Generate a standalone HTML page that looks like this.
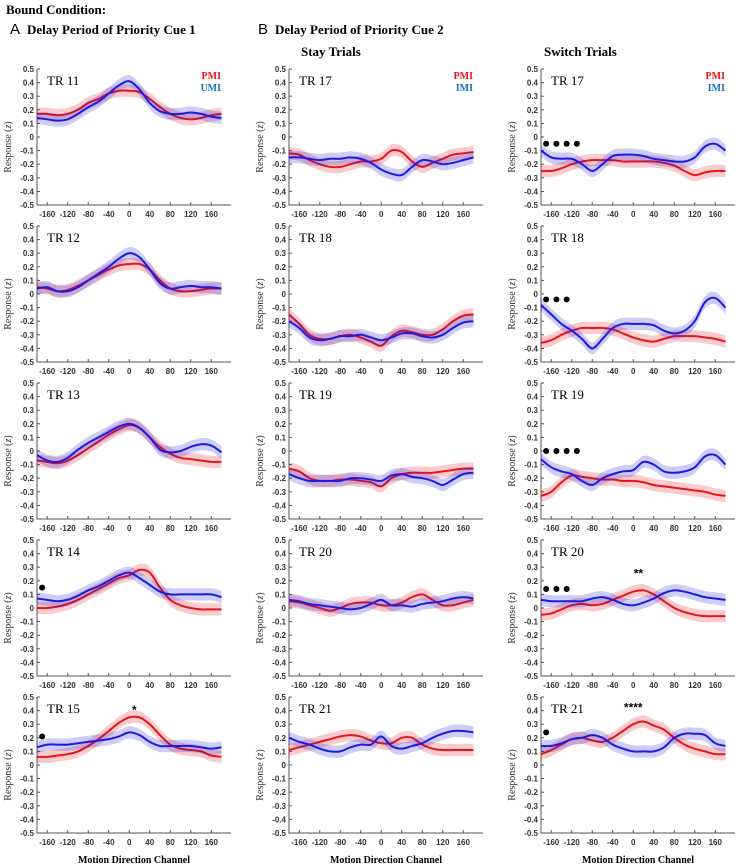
<!DOCTYPE html>
<html><head><meta charset="utf-8">
<style>
body{margin:0;background:#fff;}
svg{display:block;font-family:"Liberation Serif",serif;}
.tk{font-family:"Liberation Sans",sans-serif;font-weight:bold;font-size:8px;fill:#333;}
</style></head>
<body>
<svg id="fig" width="736" height="864" viewBox="0 0 736 864">
<text x="6" y="14" font-weight="bold" font-size="13">Bound Condition:</text>
<text x="10" y="34" font-family="Liberation Sans,sans-serif" font-size="15">A</text>
<text x="27" y="34" font-weight="bold" font-size="13">Delay Period of Priority Cue 1</text>
<text x="258" y="34" font-family="Liberation Sans,sans-serif" font-size="15">B</text>
<text x="275" y="34" font-weight="bold" font-size="13">Delay Period of Priority Cue 2</text>
<text x="301" y="56" font-weight="bold" font-size="13">Stay Trials</text>
<text x="544" y="56" font-weight="bold" font-size="13">Switch Trials</text>
<g id="plots"></g>
</svg>
<script>
const xs = [-180,-160,-140,-120,-100,-80,-60,-40,-20,0,20,40,60,80,100,120,140,160,180];
const xTicks = [-160,-120,-80,-40,0,40,80,120,160];
const yTicks = [0.5,0.4,0.3,0.2,0.1,0,-0.1,-0.2,-0.3,-0.4,-0.5];
const panelLabels = [["TR 11","TR 12","TR 13","TR 14","TR 15"],["TR 17","TR 18","TR 19","TR 20","TR 21"],["TR 17","TR 18","TR 19","TR 20","TR 21"]];
const legendNames = [["PMI","UMI"],["PMI","IMI"],["PMI","IMI"]];
const red = [
 [[.17,.17,.16,.17,.2,.25,.28,.32,.34,.34,.33,.28,.22,.17,.14,.13,.14,.16,.17],
  [.05,.04,.02,.03,.06,.1,.14,.18,.21,.22,.22,.18,.1,.04,.02,.02,.03,.04,.04],
  [-.07,-.08,-.09,-.07,-.03,.02,.07,.12,.16,.19,.17,.1,.03,-.02,-.05,-.06,-.07,-.08,-.08],
  [0,0,.01,.03,.06,.1,.14,.18,.22,.24,.28,.26,.15,.06,.02,0,-.01,-.01,-.01],
  [.06,.06,.07,.08,.1,.14,.19,.25,.31,.35,.35,.3,.22,.15,.12,.11,.1,.07,.06]],
 [[-.12,-.13,-.17,-.2,-.22,-.22,-.2,-.18,-.18,-.16,-.1,-.11,-.18,-.22,-.19,-.16,-.13,-.12,-.11],
  [-.15,-.22,-.3,-.33,-.33,-.31,-.3,-.32,-.35,-.38,-.31,-.27,-.28,-.3,-.3,-.26,-.2,-.16,-.15],
  [-.13,-.15,-.2,-.22,-.22,-.21,-.21,-.22,-.23,-.26,-.2,-.17,-.16,-.16,-.16,-.15,-.14,-.13,-.13],
  [.05,.04,.02,0,-.02,0,.03,.04,.04,.02,.02,.04,.08,.1,.06,.02,.02,.04,.06],
  [.11,.13,.15,.17,.19,.21,.22,.21,.18,.16,.16,.2,.2,.15,.12,.11,.11,.11,.11]],
 [[-.25,-.25,-.23,-.2,-.18,-.17,-.17,-.17,-.18,-.18,-.18,-.18,-.19,-.21,-.25,-.28,-.26,-.25,-.25],
  [-.36,-.34,-.3,-.27,-.25,-.25,-.25,-.26,-.29,-.32,-.34,-.35,-.33,-.31,-.31,-.31,-.32,-.33,-.35],
  [-.33,-.3,-.23,-.18,-.19,-.2,-.21,-.21,-.22,-.22,-.23,-.25,-.26,-.27,-.28,-.29,-.3,-.32,-.33],
  [-.05,-.04,-.01,.02,.03,.02,.03,.06,.09,.12,.13,.1,.05,0,-.03,-.05,-.06,-.06,-.06],
  [.08,.11,.15,.19,.2,.18,.17,.2,.25,.3,.32,.29,.26,.2,.15,.12,.1,.08,.08]]
];
const blue = [
 [[.14,.13,.12,.13,.17,.22,.26,.32,.38,.41,.35,.25,.19,.17,.17,.18,.17,.15,.14],
  [.04,.05,.02,.02,.05,.1,.15,.2,.26,.3,.27,.18,.08,.04,.05,.06,.05,.05,.04],
  [-.03,-.07,-.08,-.05,.01,.06,.1,.14,.18,.2,.17,.1,.01,-.01,0,.03,.05,.04,-.01],
  [.07,.06,.05,.06,.09,.13,.16,.2,.24,.26,.22,.17,.12,.1,.1,.1,.1,.1,.08],
  [.13,.15,.15,.15,.16,.17,.18,.19,.21,.24,.22,.17,.14,.14,.14,.14,.13,.12,.13]],
 [[-.15,-.15,-.16,-.17,-.16,-.16,-.15,-.16,-.19,-.24,-.27,-.28,-.22,-.17,-.18,-.2,-.19,-.17,-.15],
  [-.2,-.25,-.32,-.34,-.33,-.31,-.31,-.3,-.32,-.34,-.32,-.29,-.29,-.31,-.32,-.3,-.25,-.21,-.2],
  [-.17,-.2,-.22,-.22,-.22,-.22,-.2,-.2,-.21,-.22,-.18,-.17,-.19,-.2,-.22,-.25,-.21,-.17,-.16],
  [.06,.05,.03,.02,.01,0,-.01,0,.03,.06,.02,.02,.01,.03,.04,.05,.07,.08,.07],
  [.2,.17,.15,.12,.1,.1,.13,.15,.15,.21,.14,.12,.14,.16,.2,.23,.25,.25,.24]],
 [[-.1,-.15,-.16,-.16,-.2,-.25,-.2,-.14,-.13,-.13,-.14,-.16,-.17,-.18,-.18,-.15,-.07,-.05,-.1],
  [-.08,-.15,-.22,-.27,-.33,-.4,-.33,-.25,-.22,-.22,-.22,-.23,-.27,-.29,-.27,-.2,-.06,-.03,-.1],
  [-.06,-.12,-.15,-.17,-.22,-.25,-.2,-.17,-.15,-.14,-.08,-.1,-.15,-.16,-.15,-.12,-.04,-.03,-.1],
  [.06,.05,.05,.05,.05,.07,.08,.06,.03,.02,.04,.07,.11,.13,.12,.1,.08,.07,.06],
  [.14,.14,.16,.19,.2,.22,.2,.15,.12,.1,.1,.1,.13,.2,.23,.23,.22,.16,.14]]
];
// significance markers: [col,row,dotCount,dotY,starText,starX,starY]
const marks = [[0,3,1,.15,"",0,0],[0,4,1,.21,"*",10,.41],[2,0,4,-.05,"",0,0],[2,1,3,-.04,"",0,0],[2,2,4,0,"",0,0],[2,3,3,.14,"**",10,.26],[2,4,1,.24,"****",0,.43]];
const bandHalf = 0.045;

const colX = [37,289,541], rowY = [69,226,383,540,697], PH = 136, X0 = 0, X1 = 184.5;
const NS = "http://www.w3.org/2000/svg";
const root = document.getElementById('plots');
function mk(tag, attrs, parent){const e=document.createElementNS(NS,tag);for(const k in attrs)e.setAttribute(k,attrs[k]);(parent||root).appendChild(e);return e;}
function smooth(pts){let d="M"+pts[0][0]+","+pts[0][1];for(let i=0;i<pts.length-1;i++){const p0=pts[Math.max(0,i-1)],p1=pts[i],p2=pts[i+1],p3=pts[Math.min(pts.length-1,i+2)];d+=" C"+(p1[0]+(p2[0]-p0[0])/6)+","+(p1[1]+(p2[1]-p0[1])/6)+" "+(p2[0]-(p3[0]-p1[0])/6)+","+(p2[1]-(p3[1]-p1[1])/6)+" "+p2[0]+","+p2[1];}return d;}
function smoothCont(pts){return smooth(pts).replace(/^M/," L");}

for(let c=0;c<3;c++)for(let r=0;r<5;r++){
  const ox=colX[c], oy=rowY[r];
  const sx=v=>ox+X0+(v+180)/360*X1, sy=v=>oy+(0.5-v)*PH;
  const g=mk('g',{});
  
  
  const ax=mk('path',{d:`M${ox},${oy} V${oy+PH} H${ox+194}`,stroke:'#555','stroke-width':1,fill:'none'},g);
  
  
  yTicks.forEach(t=>{const y=sy(t);mk('line',{x1:ox,x2:ox+3,y1:y,y2:y,stroke:'#555'},g);
    const tx=mk('text',{x:ox-3,y:y+3,'text-anchor':'end',class:'tk'},g);tx.textContent=(t===0?"0":t.toFixed(1).replace("0.",".").replace(/^\./,"0.").replace("-.","-0."));
    });
  xTicks.forEach(t=>{const x=sx(t);mk('line',{x1:x,x2:x,y1:oy+PH,y2:oy+PH-3,stroke:'#555'},g);
    const tx=mk('text',{x:x,y:oy+PH+12,'text-anchor':'middle',class:'tk'},g);tx.textContent=t;
    });
  const yl=mk('text',{x:0,y:0,transform:`translate(${ox-26},${oy+PH/2+10}) rotate(-90)`,'text-anchor':'middle','font-size':10,fill:'#333'},g);
  yl.innerHTML='Response (<tspan font-style="italic">z</tspan>)';
  
  const lab=mk('text',{x:ox+10,y:oy+16,'font-size':13},g);lab.textContent=panelLabels[c][r];
  
  [[red,'#e8141c','pmi'],[blue,'#1c1ce0','imi']].forEach(([arr,col,nm])=>{
    const vals=arr[c][r];
    const up=xs.map((x,i)=>[sx(x),sy(vals[i]+bandHalf)]), dn=xs.map((x,i)=>[sx(x),sy(vals[i]-bandHalf)]).reverse();
    const band=mk('path',{d:smooth(up)+smoothCont(dn)+" Z",fill:col,opacity:0.22},g);
    
    const ln=mk('path',{d:smooth(xs.map((x,i)=>[sx(x),sy(vals[i])])),stroke:col,'stroke-width':2,fill:'none'},g);
    
  });
  if(r===0){
    const l1=mk('text',{x:ox+184,y:oy+10,'text-anchor':'end','font-weight':'bold','font-size':10,fill:'#e8141c'},g);l1.textContent=legendNames[c][0];
    
    const l2=mk('text',{x:ox+184,y:oy+22,'text-anchor':'end','font-weight':'bold','font-size':10,fill:'#1a6cc0'},g);l2.textContent=legendNames[c][1];
    
  }
  if(r===4){
    const xl=mk('text',{x:ox+97,y:oy+PH+30,'text-anchor':'middle','font-weight':'bold','font-size':10},g);xl.textContent='Motion Direction Channel';
    
  }
}
marks.forEach(([c,r,n,dy,star,stx,sty])=>{
  const ox=colX[c], oy=rowY[r];
  const sx=v=>ox+(v+180)/360*X1, sy=v=>oy+(0.5-v)*PH;
  for(let i=0;i<n;i++){const d=mk('circle',{cx:sx(-170+i*20),cy:sy(dy),r:3,fill:'#000'});
    }
  if(star){const t=mk('text',{x:sx(stx),y:sy(sty)+5,'text-anchor':'middle','font-weight':'bold','font-size':12,'font-family':'Liberation Sans,sans-serif'});t.textContent=star;
    }
});
</script>
</body></html>
